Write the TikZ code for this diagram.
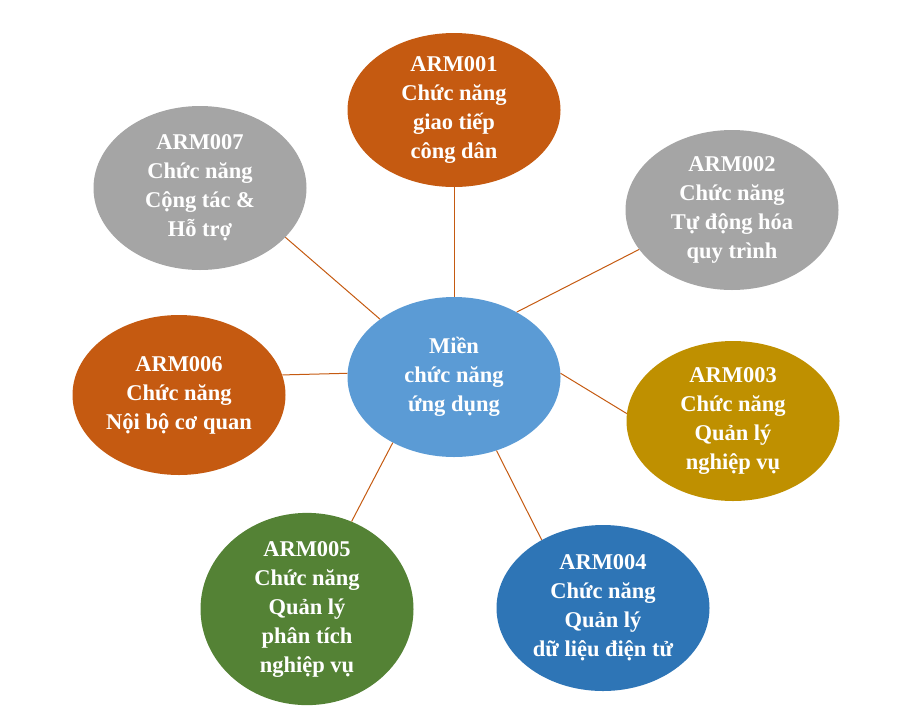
\documentclass[tikz,border=0pt]{standalone}
\usepackage{fontspec}
\setmainfont{Liberation Serif}
\usetikzlibrary{shapes.geometric}

\definecolor{rust}{HTML}{C55A11}
\definecolor{skyblue}{HTML}{5B9BD5}
\definecolor{ashgray}{HTML}{A5A5A5}
\definecolor{mustard}{HTML}{BF9000}
\definecolor{deepblue}{HTML}{2E75B6}
\definecolor{leafgreen}{HTML}{548235}

\begin{document}
\begin{tikzpicture}[x=1pt,y=-1pt,
    arm/.style={ellipse, minimum width=213pt, minimum height=160pt, inner sep=0pt,
        text=white, align=center, font=\fontsize{22.5}{29}\selectfont\bfseries},
    link/.style={draw=rust, line width=1pt}
]
    \useasboundingbox (0,0) rectangle (917,713);

    % centre
    \node[arm, fill=skyblue] (mien) at (454,377) {Miền\\chức năng\\ứng dụng};

    % functions round it
    \node[arm, fill=rust, minimum height=154pt] (arm1) at (454,110) {ARM001\\Chức năng\\giao tiếp\\công dân};
    \node[arm, fill=ashgray] (arm2) at (732,210) {ARM002\\Chức năng\\Tự động hóa\\quy trình};
    \node[arm, fill=mustard] (arm3) at (733,421) {ARM003\\Chức năng\\Quản lý\\nghiệp vụ};
    \node[arm, fill=deepblue, minimum height=166pt] (arm4) at (603,608) {ARM004\\Chức năng\\Quản lý\\dữ liệu điện tử};
    \node[arm, fill=leafgreen, minimum height=168pt] (arm5) at (307,609) {ARM005\\Chức năng\\Quản lý\\phân tích\\nghiệp vụ};
    \node[arm, fill=rust] (arm6) at (179,395) {ARM006\\Chức năng\\Nội bộ cơ quan};
    \node[arm, fill=ashgray, minimum height=164pt] (arm7) at (200,188) {ARM007\\Chức năng\\Cộng tác \&\\Hỗ trợ};

    % links
    \foreach \n/\a/\b in {arm1/90/270, arm2/46/203, arm3/2/176, arm4/-60/132,
                          arm5/227/63, arm6/178/11, arm7/142/330}
        \draw[link] (mien.\a) -- (\n.\b);
\end{tikzpicture}
\end{document}
